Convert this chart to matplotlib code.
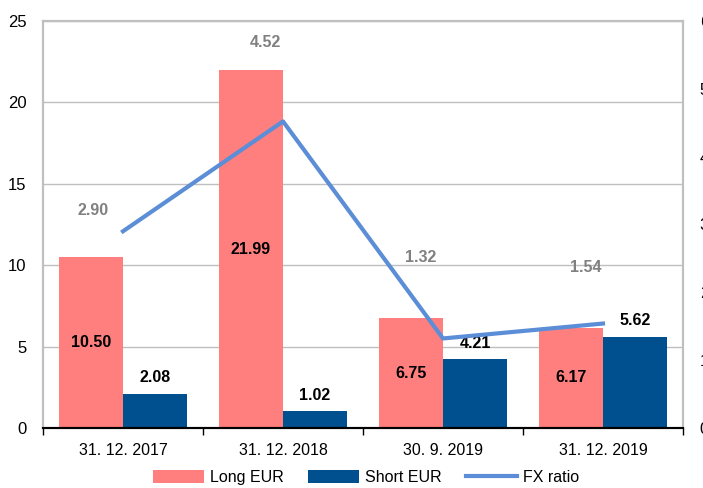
import matplotlib
matplotlib.use("Agg")
import matplotlib.pyplot as plt
import numpy as np

plt.rcParams['font.family'] = ['Liberation Sans', 'DejaVu Sans']

categories = ['31. 12. 2017', '31. 12. 2018', '30. 9. 2019', '31. 12. 2019']
long_eur = [10.50, 21.99, 6.75, 6.17]
short_eur = [2.08, 1.02, 4.21, 5.62]
fx_ratio = [2.90, 4.52, 1.32, 1.54]
# where the FX ratio labels sit (right axis units / category units)
fx_label_y = [3.21, 5.69, 2.51, 2.36]
fx_label_x = [-0.19, 0.89, 1.86, 2.89]

pink = '#FF7F7F'
navy = '#00508F'
blue = '#5B8ED6'
grid_c = '#BFBFBF'

fig = plt.figure(figsize=(7.03, 4.88), dpi=100)
ax = fig.add_axes([43 / 703, 60 / 488, 640 / 703, 407 / 488])
ax2 = ax.twinx()

x = np.arange(len(categories))
w = 0.4
ax.bar(x - w / 2, long_eur, w, color=pink, label='Long EUR', zorder=2)
ax.bar(x + w / 2, short_eur, w, color=navy, label='Short EUR', zorder=2)
ax2.plot(x, fx_ratio, color=blue, lw=3, label='FX ratio', zorder=3)

for i in range(len(x)):
    ax.text(x[i] - w / 2, long_eur[i] / 2, f'{long_eur[i]:.2f}', ha='center', va='center',
            fontsize=11.5, fontweight='bold', color='black', zorder=5)
    ax.text(x[i] + w / 2, short_eur[i] + 1.0, f'{short_eur[i]:.2f}', ha='center', va='center',
            fontsize=11.5, fontweight='bold', color='black', zorder=5)
    ax2.text(fx_label_x[i], fx_label_y[i], f'{fx_ratio[i]:.2f}', ha='center', va='center',
             fontsize=11.5, fontweight='bold', color='#808080', zorder=5)

ax.set_xlim(-0.5, 3.5)
ax.set_ylim(0, 25)
ax.set_yticks(range(0, 26, 5))
ax2.set_ylim(0, 6)
ax2.set_yticks(range(0, 7))

ax.yaxis.grid(True, color=grid_c, lw=1)
ax.set_axisbelow(True)
ax.set_xticks(x)
ax.set_xticklabels(categories)
ax.set_xticks(np.arange(-0.5, 4, 1), minor=True)
ax.tick_params(axis='x', which='major', length=0, pad=11, labelsize=11.5)
ax.tick_params(axis='x', which='minor', length=5, width=1, color='black', direction='out')
ax.tick_params(axis='y', length=0, pad=12, labelsize=12)
ax2.tick_params(axis='y', length=0, pad=12, labelsize=12)

for a in (ax, ax2):
    for s in ('left', 'right', 'top'):
        a.spines[s].set_color(grid_c)
        a.spines[s].set_linewidth(1.5)
    a.spines['bottom'].set_color('black')
    a.spines['bottom'].set_linewidth(1.5)

h1, l1 = ax.get_legend_handles_labels()
h2, l2 = ax2.get_legend_handles_labels()
fig.legend(h1 + h2, l1 + l2, loc='center', bbox_to_anchor=(366 / 703, 0.022), ncol=3,
           frameon=False, fontsize=11.5, handlelength=3.2, handleheight=0.9,
           columnspacing=1.5, handletextpad=0.4)

fig.savefig('out.png', dpi=100)
